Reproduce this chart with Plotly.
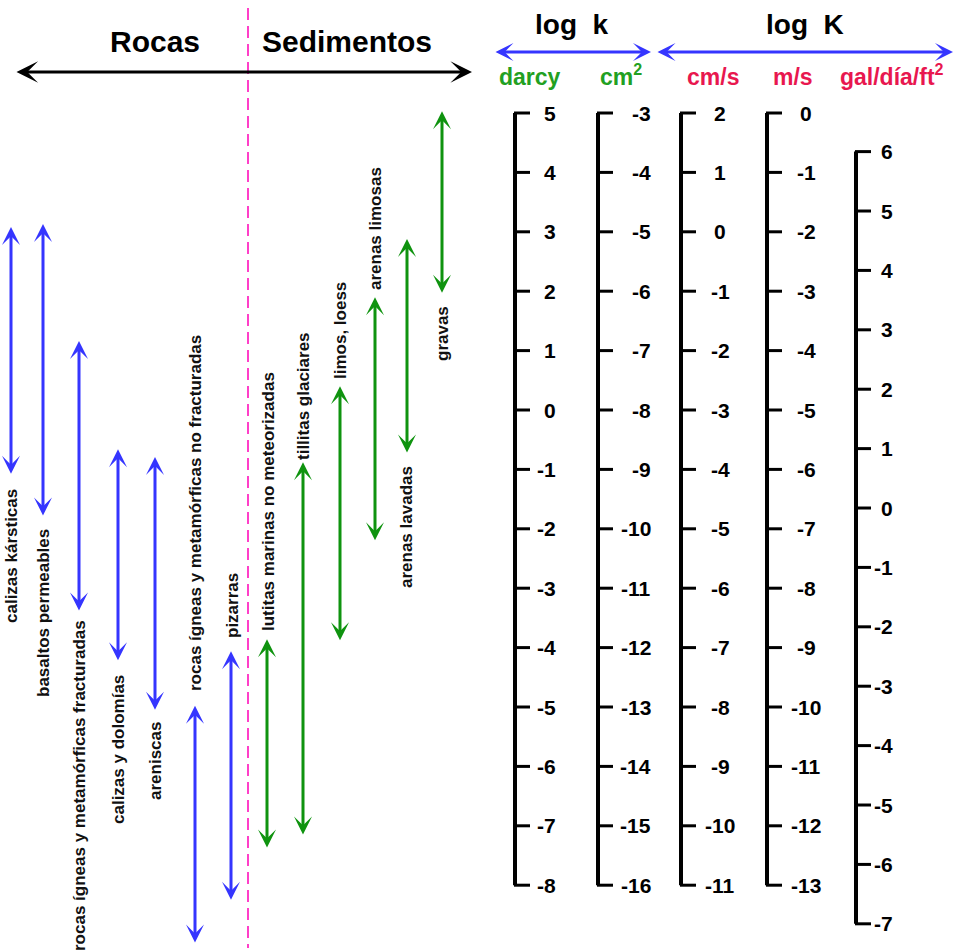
import plotly.graph_objects as go

# ---------------- data (log units; arrow ranges expressed in log k [darcy]) ----------------
rock_names = ["calizas kársticas", "basaltos permeables",
              "rocas ígneas y metamórficas fracturadas", "calizas y dolomías",
              "areniscas", "rocas ígneas y metamórficas no fracturadas", "pizarras"]
rock_top = [3.08, 3.13, 1.16, -0.66, -0.79, -4.98, -4.06]
rock_bottom = [-1.10, -1.80, -3.40, -4.24, -5.07, -8.99, -8.27]

sed_names = ["lutitas marinas no meteorizadas", "tillitas glaciares", "limos, loess",
             "arenas limosas", "arenas lavadas", "gravas"]
sed_top = [-3.86, -0.88, 0.40, 1.90, 2.88, 5.03]
sed_bottom = [-7.39, -7.17, -3.90, -2.22, -0.74, 1.95]

darcy_ticks = [5, 4, 3, 2, 1, 0, -1, -2, -3, -4, -5, -6, -7, -8]
cm2_ticks = [-3, -4, -5, -6, -7, -8, -9, -10, -11, -12, -13, -14, -15, -16]
cms_ticks = [2, 1, 0, -1, -2, -3, -4, -5, -6, -7, -8, -9, -10, -11]
ms_ticks = [0, -1, -2, -3, -4, -5, -6, -7, -8, -9, -10, -11, -12, -13]
gal_ticks = [6, 5, 4, 3, 2, 1, 0, -1, -2, -3, -4, -5, -6, -7]
# value on each scale + offset = log k in darcy
scale_offsets = [0, 8, 3, 5, -1.65]

# ---------------- layout helpers (pixel geometry) ----------------
W, H = 955, 951
Y0, S = 410.0, 59.4          # pixel of log k = 0, pixels per decade


def py(p):
    """pixel row -> data y (log k darcy)"""
    return (Y0 - p) / S


FONT = "Liberation Sans, Arial, sans-serif"
BLUE = "#3535ff"
GREEN = "#0f930f"
MAGENTA = "#ff3fc8"
UGREEN = "#22a022"
URED = "#e8174f"

fig = go.Figure()
ann = []

rock_x = [11, 43, 79, 118, 155, 195, 231]
rock_lbl = [(11, 556), (43, 613), (79, 786), (118, 750), (155, 761), (195, 513), (232, 606)]
sed_x = [267, 303, 340, 375, 407, 442]
sed_lbl = [(268, 502), (303, 396), (340, 331), (375, 229), (406, 527), (442, 334)]


def darrow(x, ytop, ybot, color, width=3, size=1.0):
    ann.append(dict(x=x, y=ytop, ax=x, ay=ybot, xref="x", yref="y", axref="x", ayref="y",
                    text="", showarrow=True, arrowhead=3, startarrowhead=3,
                    arrowside="end+start", arrowsize=size, startarrowsize=size,
                    arrowwidth=width, arrowcolor=color, standoff=0, startstandoff=0))


LBL_FONT = dict(family=FONT, size=17, color="#111111", weight="bold")
for i, n in enumerate(rock_names):
    darrow(rock_x[i], rock_top[i], rock_bottom[i], BLUE)
    lx, ly = rock_lbl[i]
    ann.append(dict(x=lx, y=py(ly), xref="x", yref="y", text=n, showarrow=False,
                    textangle=-90, xanchor="center", yanchor="middle", font=LBL_FONT))
for i, n in enumerate(sed_names):
    darrow(sed_x[i], sed_top[i], sed_bottom[i], GREEN)
    lx, ly = sed_lbl[i]
    ann.append(dict(x=lx, y=py(ly), xref="x", yref="y", text=n, showarrow=False,
                    textangle=-90, xanchor="center", yanchor="middle", font=LBL_FONT))

# dashed divider
fig.add_trace(go.Scatter(x=[248, 248], y=[py(8), py(948)], mode="lines",
                         line=dict(color=MAGENTA, width=2, dash="12px,6px"),
                         hoverinfo="skip", showlegend=False))

# header arrows
ann.append(dict(x=472, y=py(72), ax=15, ay=py(72), xref="x", yref="y", axref="x", ayref="y",
                text="", showarrow=True, arrowhead=3, startarrowhead=3, arrowside="end+start",
                arrowsize=1.2, startarrowsize=1.2, arrowwidth=3, arrowcolor="black",
                standoff=0, startstandoff=0))
ann.append(dict(x=651, y=py(52), ax=494, ay=py(52), xref="x", yref="y", axref="x", ayref="y",
                text="", showarrow=True, arrowhead=3, startarrowhead=3, arrowside="end+start",
                arrowsize=1.0, startarrowsize=1.0, arrowwidth=3, arrowcolor=BLUE,
                standoff=0, startstandoff=0))
ann.append(dict(x=953, y=py(52), ax=656, ay=py(52), xref="x", yref="y", axref="x", ayref="y",
                text="", showarrow=True, arrowhead=3, startarrowhead=3, arrowside="end+start",
                arrowsize=1.0, startarrowsize=1.0, arrowwidth=3, arrowcolor=BLUE,
                standoff=0, startstandoff=0))


def label(x, ypix, text, size, color="black"):
    ann.append(dict(x=x, y=py(ypix), xref="x", yref="y", text=text, showarrow=False,
                    xanchor="center", yanchor="middle",
                    font=dict(family=FONT, size=size, color=color, weight="bold")))


label(155, 41, "Rocas", 30)
label(347, 41, "Sedimentos", 30)
label(572, 24, "log  k", 28)
label(805, 24, "log  K", 28)
label(530, 77, "darcy", 23, UGREEN)
label(621, 75, "cm<sup>2</sup>", 23, UGREEN)
label(713, 77, "cm/s", 23, URED)
label(793, 77, "m/s", 23, URED)
label(892, 75, "gal/día/ft<sup>2</sup>", 23, URED)

# vertical scales
scales = [darcy_ticks, cm2_ticks, cms_ticks, ms_ticks, gal_ticks]
axis_x = [515, 598, 681, 767, 856]
lbl_pos = [(558, "right"), (653, "right"), (720, "center"), (806, "center"), (895, "right")]
TL = 15
for k, ticks in enumerate(scales):
    off = scale_offsets[k]
    ys = [t + off for t in ticks]
    ax_x = axis_x[k]
    fig.add_trace(go.Scatter(x=[ax_x, ax_x], y=[max(ys), min(ys)], mode="lines",
                             line=dict(color="black", width=4), hoverinfo="skip",
                             showlegend=False))
    tx, ty = [], []
    for yv in ys:
        tx += [ax_x - 1, ax_x + TL, None]
        ty += [yv, yv, None]
    fig.add_trace(go.Scatter(x=tx, y=ty, mode="lines", line=dict(color="black", width=3),
                             hoverinfo="skip", showlegend=False))
    lx, anc = lbl_pos[k]
    for t, yv in zip(ticks, ys):
        ann.append(dict(x=lx, y=yv, xref="x", yref="y", text=str(t), showarrow=False,
                        xanchor=anc, yanchor="middle",
                        font=dict(family=FONT, size=21, color="black", weight="bold")))

fig.update_layout(
    width=W, height=H, margin=dict(l=0, r=0, t=0, b=0),
    paper_bgcolor="white", plot_bgcolor="white",
    xaxis=dict(range=[0, W], visible=False, fixedrange=True),
    yaxis=dict(range=[py(H), py(0)], visible=False, fixedrange=True),
    annotations=ann, showlegend=False,
)
fig.write_html("out.html", config={"displayModeBar": False},
               post_script="document.body.style.margin='0';document.body.style.overflow='hidden';")
